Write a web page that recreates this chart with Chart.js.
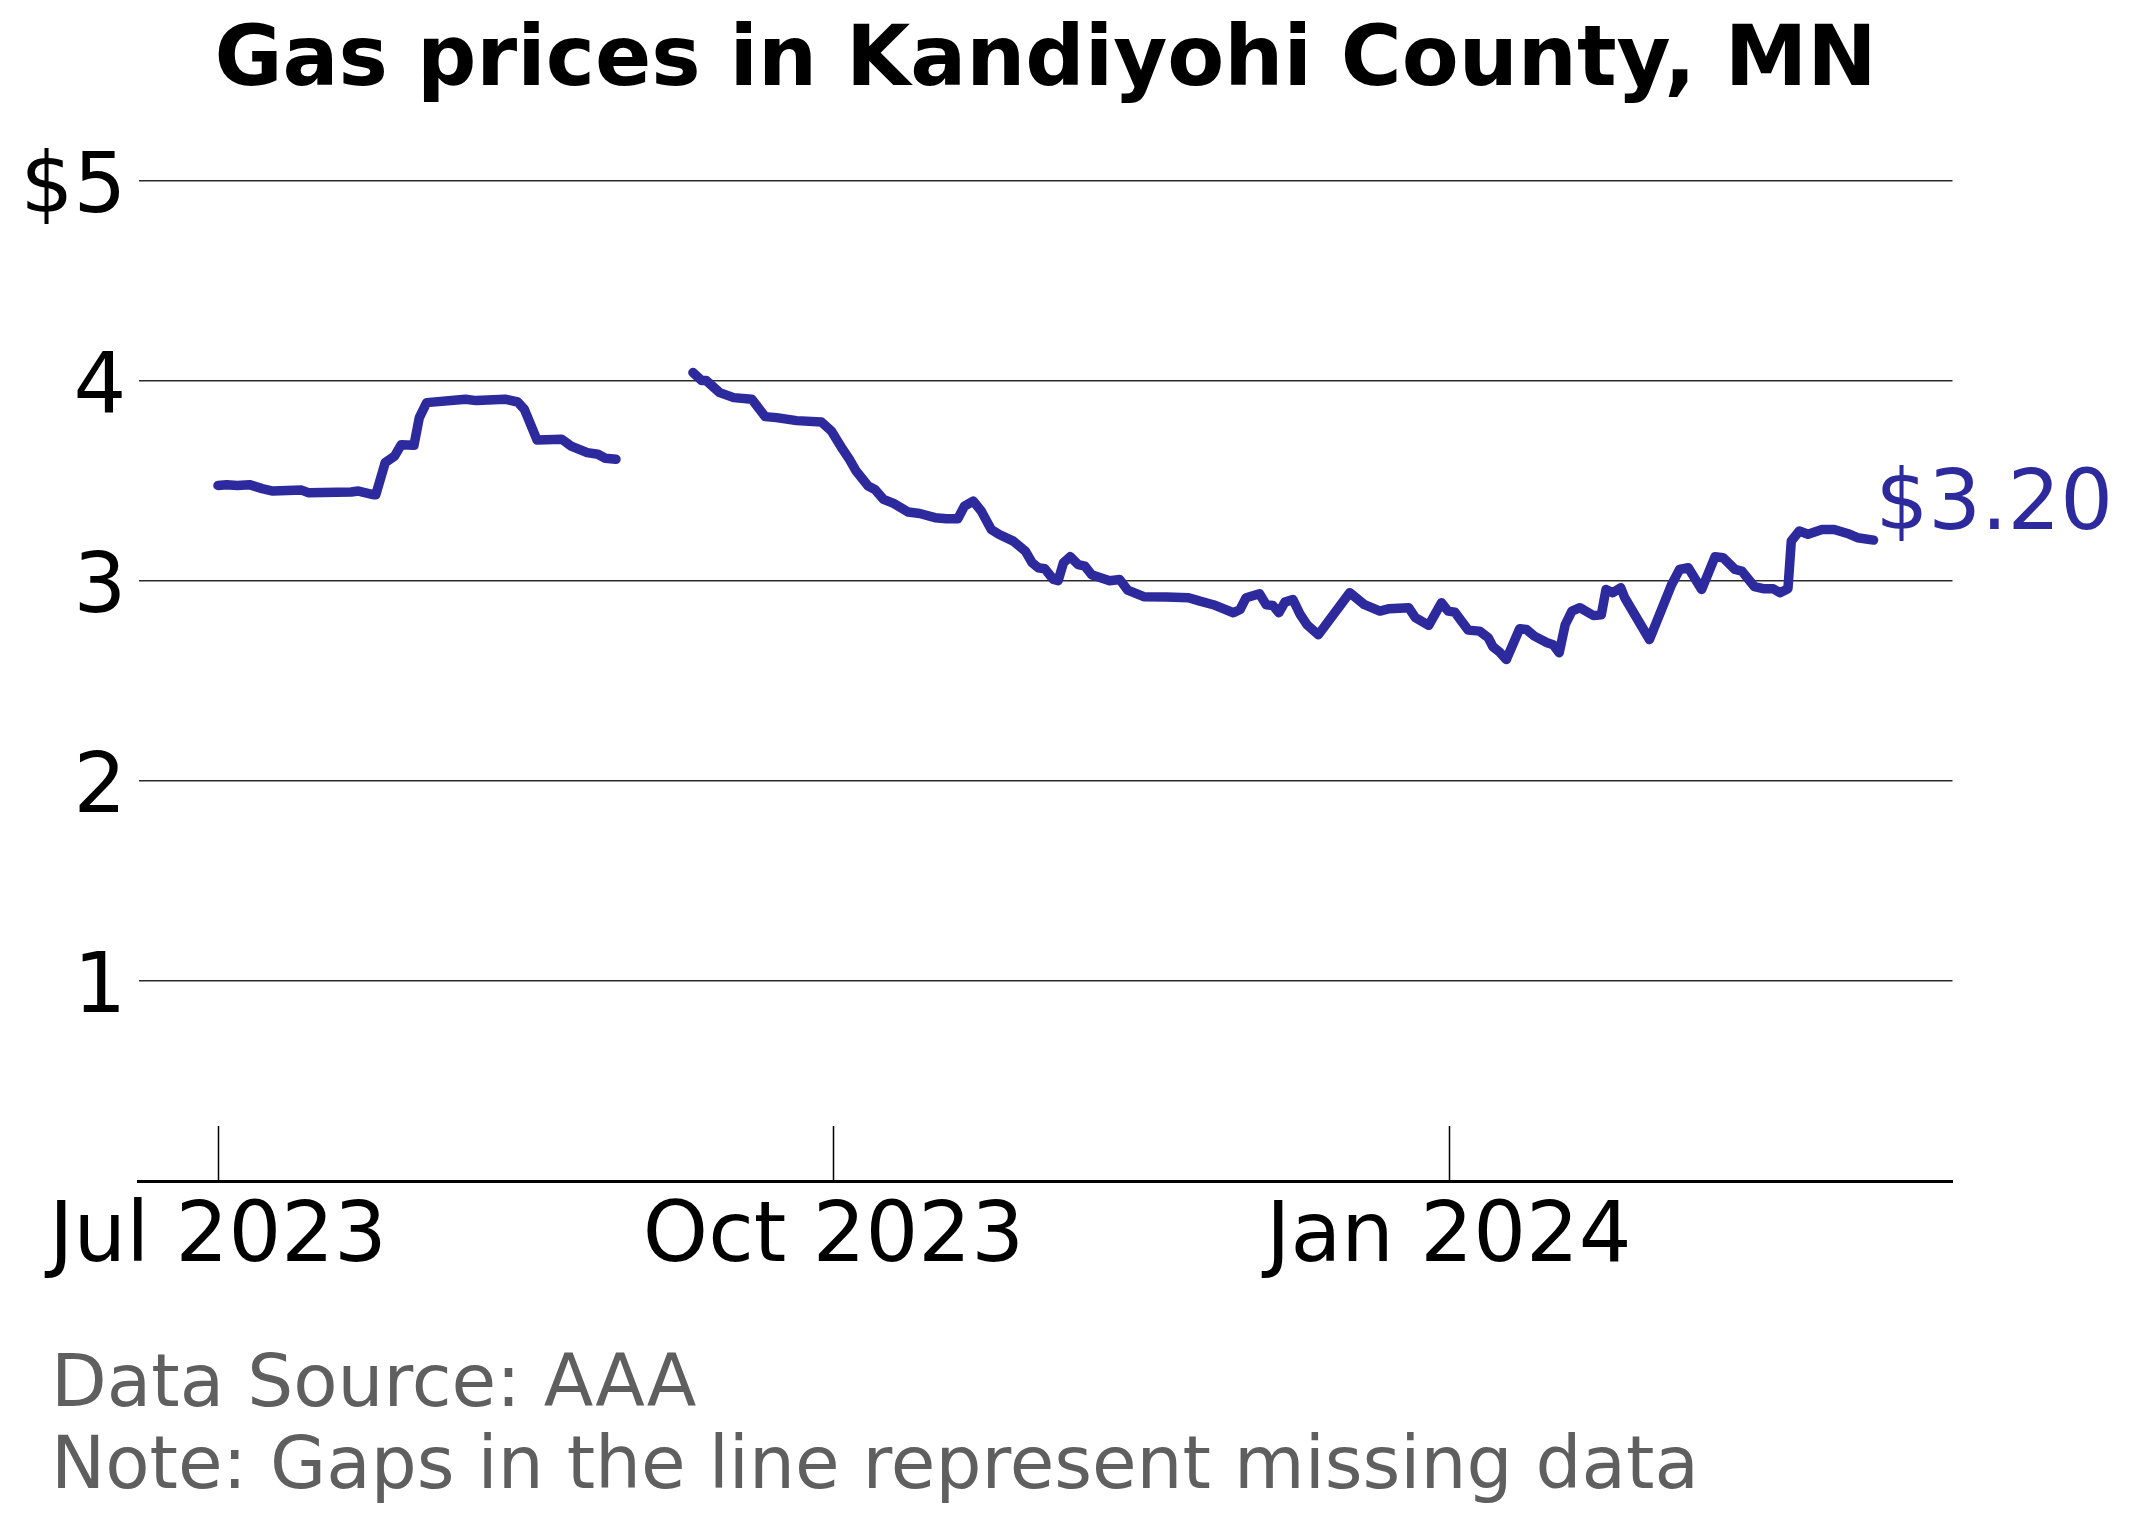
<!DOCTYPE html>
<html>
<head>
<meta charset="utf-8">
<title>Gas prices in Kandiyohi County, MN</title>
<script src="https://cdn.jsdelivr.net/npm/chart.js@4.4.0/dist/chart.umd.min.js"></script>
<style>
  html, body { margin: 0; padding: 0; background: #fff; }
  #wrap { width: 2132px; height: 1524px; }
</style>
</head>
<body>
<div id="wrap"><canvas id="gas-chart" width="2132" height="1524"></canvas></div>
<script>
// x = days since Jul 1 2023, null price = missing data
var days = [
  0, 1.3, 2.9, 4.7, 6.6, 8.2, 12.5, 13.5, 19.9, 21.0, 23.2, 23.6, 25.0, 26.4, 27.4,
  29.3, 30.1, 31.2, 37.0, 38.6, 42.9, 44.8, 45.8, 47.7, 51.4, 52.8, 55.2, 56.8, 57.9, 59.5,
  65,
  71.0, 72.3, 73.0, 75.0, 77.1, 79.8, 81.8, 83.5, 86.5, 90.2, 91.7, 93.4, 94.4, 95.4,
  97.2, 98.2, 99.5, 101.0, 103.2, 104.9, 107.2, 108.9, 110.6, 111.6, 112.9, 114.1,
  115.6, 116.8, 118.9, 120.7, 121.7, 122.6, 123.6, 124.9, 125.6, 126.4, 127.4, 128.6,
  129.6, 130.6, 133.3, 134.8, 136.0, 138.4, 141.8, 145.1, 146.8, 148.8, 151.8, 152.8,
  153.7, 155.7, 156.7, 157.7, 158.6, 159.5, 160.7, 161.8, 162.8, 164.5, 169.2, 171.4,
  173.7, 175.1, 178.0, 179.0, 181.0, 182.9, 183.9, 184.9, 186.9, 188.6, 189.9, 190.6,
  191.6, 192.6, 194.6, 195.6, 196.8, 198.7, 199.6, 200.5, 201.4, 202.4, 203.6, 205.6,
  206.8, 207.5, 208.5, 209.7, 210.3, 214.0, 217.3, 218.5, 219.8, 221.8, 223.8, 225.0,
  226.8, 227.8, 229.7, 231.0, 232.5, 233.5, 234.7, 235.2, 236.4, 237.7, 239.8, 241.6,
  243.6, 245.1, 247.5
];
var prices = [
  3.476, 3.48, 3.476, 3.48, 3.46, 3.448, 3.453, 3.44, 3.443, 3.448, 3.43, 3.43, 3.59, 3.623, 3.68,
  3.677, 3.815, 3.89, 3.907, 3.90, 3.907, 3.893, 3.857, 3.703, 3.707, 3.673, 3.64, 3.632, 3.612, 3.607,
  null,
  4.04, 4.0, 4.0, 3.94, 3.915, 3.907, 3.82, 3.815, 3.80, 3.793, 3.748, 3.656, 3.606, 3.548,
  3.473, 3.456, 3.406, 3.386, 3.343, 3.336, 3.315, 3.31, 3.31, 3.373, 3.398, 3.348,
  3.256, 3.231, 3.198, 3.148, 3.09, 3.065, 3.06, 3.006, 3.0, 3.09, 3.12, 3.08,
  3.073, 3.03, 3.0, 3.006, 2.953, 2.92, 2.918, 2.915, 2.898, 2.88, 2.84, 2.856,
  2.915, 2.935, 2.88, 2.876, 2.84, 2.893, 2.906, 2.83, 2.78, 2.73, 2.94, 2.88,
  2.848, 2.86, 2.865, 2.815, 2.777, 2.89, 2.848, 2.843, 2.753, 2.748, 2.715, 2.67,
  2.643, 2.606, 2.76, 2.756, 2.723, 2.69, 2.68, 2.64, 2.78, 2.848, 2.865, 2.826,
  2.83, 2.956, 2.94, 2.965, 2.915, 2.706, 2.98, 3.056, 3.065, 2.956, 3.12, 3.115,
  3.056, 3.048, 2.97, 2.96, 2.96, 2.94, 2.96, 3.198, 3.248, 3.232, 3.256, 3.256,
  3.236, 3.215, 3.203
];
var tickDays = [0, 92, 184];
var tickLabels = ['Jul 2023', 'Oct 2023', 'Jan 2024'];
var yTickValues = [0, 1, 2, 3, 4, 5];
var yTickLabels = ['', '1', '2', '3', '4', '$5'];
var notes = ['Data Source: AAA', 'Note: Gaps in the line represent missing data'];

var lineColor = '#2d2a9e';
Chart.defaults.font.family = '"DejaVu Sans", sans-serif';
Chart.defaults.color = '#000';

var points = days.map(function (d, i) { return { x: d, y: prices[i] }; });

// inward tick marks, y labels, end label and footer notes
var extras = {
  id: 'extras',
  afterDraw: function (chart) {
    var ctx = chart.ctx;
    var xs = chart.scales.x, ys = chart.scales.y;
    var area = chart.chartArea;
    ctx.save();
    ctx.strokeStyle = '#000';
    ctx.lineWidth = 1.5;
    tickDays.forEach(function (d) {
      var px = Math.round(xs.getPixelForValue(d)) + 0.5;
      ctx.beginPath();
      ctx.moveTo(px, area.bottom - 55);
      ctx.lineTo(px, area.bottom);
      ctx.stroke();
    });

    ctx.font = '83px "DejaVu Sans"';
    ctx.fillStyle = '#000';
    ctx.textBaseline = 'alphabetic';
    ctx.textAlign = 'right';
    yTickValues.forEach(function (v, i) {
      ctx.fillText(yTickLabels[i], area.left - 12.5, ys.getPixelForValue(v) + 31);
    });

    var last = points[points.length - 1];
    ctx.fillStyle = lineColor;
    ctx.textAlign = 'left';
    ctx.fillText('$' + last.y.toFixed(2), xs.getPixelForValue(last.x) + 2, ys.getPixelForValue(last.y) - 11);

    ctx.font = '72.5px "DejaVu Sans"';
    ctx.fillStyle = '#5f5f5f';
    ctx.fillText(notes[0], 51, 1406);
    ctx.fillText(notes[1], 51, 1488);
    ctx.restore();
  }
};

new Chart(document.getElementById('gas-chart'), {
  type: 'line',
  data: {
    datasets: [{
      label: 'Gas price',
      data: points,
      borderColor: lineColor,
      borderWidth: 9.5,
      borderCapStyle: 'round',
      borderJoinStyle: 'round',
      pointRadius: 0,
      tension: 0,
      spanGaps: false
    }]
  },
  options: {
    responsive: false,
    animation: false,
    devicePixelRatio: 1,
    layout: { padding: { left: 0, right: 179.5, top: 0, bottom: 0 } },
    plugins: {
      legend: { display: false },
      tooltip: { enabled: false },
      title: {
        display: true,
        fullSize: false,
        text: 'Gas prices in Kandiyohi County, MN',
        color: '#000',
        font: { size: 83, weight: 'bold' },
        padding: { top: 14, bottom: 66.9 }
      }
    },
    scales: {
      x: {
        type: 'linear',
        min: -11.85,
        max: 259.3,
        afterFit: function (s) { s.height = 1524 - 1181; },
        afterBuildTicks: function (s) { s.ticks = tickDays.map(function (v) { return { value: v }; }); },
        grid: { display: false, drawTicks: false },
        border: { display: true, color: '#000', width: 3 },
        ticks: {
          padding: 9,
          maxRotation: 0,
          font: { size: 83 },
          callback: function (v) { return tickLabels[tickDays.indexOf(v)]; }
        }
      },
      y: {
        min: 0,
        max: 5,
        afterFit: function (s) { s.width = 138.7; },
        afterBuildTicks: function (s) { s.ticks = yTickValues.map(function (v) { return { value: v }; }); },
        grid: {
          drawTicks: false,
          lineWidth: 1.5,
          color: function (c) { return c.tick && c.tick.value === 0 ? 'rgba(0,0,0,0)' : '#2a2a2a'; }
        },
        border: { display: false },
        ticks: { display: false }
      }
    }
  },
  plugins: [extras]
});
</script>
</body>
</html>
